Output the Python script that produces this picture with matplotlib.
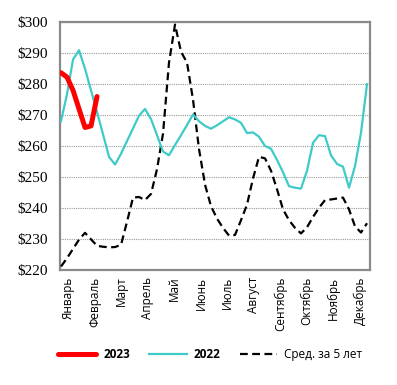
import matplotlib
matplotlib.use("Agg")
import matplotlib.pyplot as plt
import numpy as np

months = ["Январь", "Февраль", "Март", "Апрель", "Май", "Июнь", "Июль",
          "Август", "Сентябрь", "Октябрь", "Ноябрь", "Декабрь"]

y2023 = [283.7, 282.3, 278.0, 272.0, 266.0, 266.5, 276.0]

y2022 = [268.0, 276.8, 288.0, 291.0, 285.0, 278.0, 271.0, 263.8, 256.5, 254.0,
         257.5, 261.6, 265.7, 269.8, 272.0, 268.7, 263.5, 258.2, 257.0, 260.3,
         263.5, 266.8, 270.2, 268.0, 266.5, 265.6, 266.7, 268.0, 269.3, 268.6,
         267.5, 264.2, 264.4, 263.0, 260.0, 259.1, 255.5, 251.5, 247.0, 246.5,
         246.2, 252.0, 261.0, 263.5, 263.2, 257.0, 254.2, 253.3, 246.5, 253.5,
         264.3, 280.0]

avg5 = [221.0, 223.7, 226.7, 229.7, 231.9, 229.8, 227.7, 227.4, 227.2, 227.3,
        228.0, 235.5, 243.3, 243.5, 242.5, 244.5, 252.5, 264.0, 287.0, 299.3,
        290.5, 287.0, 275.0, 259.0, 247.5, 240.5, 236.5, 233.5, 231.0, 231.2,
        236.0, 241.0, 249.5, 256.5, 256.0, 252.0, 246.0, 239.5, 236.0, 233.5,
        231.7, 233.7, 237.0, 240.0, 242.5, 242.7, 243.0, 243.3, 239.5, 234.0,
        232.0, 235.0]

yticks = [220, 230, 240, 250, 260, 270, 280, 290, 300]

fig = plt.figure(figsize=(3.97, 3.85), dpi=100)
ax = fig.add_axes([60/397, 1-269.6/385, 310/397, (269.6-22.4)/385])

ax.plot(np.arange(len(avg5)), avg5, color="black", lw=1.6, ls=(0, (3.5, 2)),
        label="Сред. за 5 лет", zorder=3)
ax.plot(np.arange(len(y2022)), y2022, color="#3ECBC8", lw=1.6, label="2022", zorder=4)
ax.plot(np.arange(len(y2023)), y2023, color="#FF0000", lw=3.6, label="2023",
        solid_capstyle="round", solid_joinstyle="round", zorder=5)

ax.set_xlim(-0.17, 51.5)
ax.set_ylim(220, 300)
ax.set_yticks(yticks)
ax.set_yticklabels([f"${v}" for v in yticks], family="Liberation Serif", fontsize=11)
ax.yaxis.grid(True, color="#9a9a9a", ls=(0, (1, 1)), lw=0.8)
ax.set_axisbelow(True)

tickpos = 1.22 + 4.42 * np.arange(12)
ax.set_xticks(tickpos)
ax.set_xticklabels(months, rotation=90, family="Open Sans", fontsize=8.5)
ax.tick_params(axis="x", length=0, pad=5)
ax.tick_params(axis="y", length=0, pad=9)

for s in ax.spines.values():
    s.set_color("#8a8a8a")
    s.set_linewidth(1.6)

handles, labels = ax.get_legend_handles_labels()
order = [2, 1, 0]
leg = fig.legend([handles[i] for i in order], [labels[i] for i in order],
                 loc="center", bbox_to_anchor=(0.53, 0.078), ncol=3, frameon=False,
                 prop={"family": "Open Sans", "size": 8.5}, handlelength=3.2,
                 columnspacing=1.6, handletextpad=0.6)
for t in leg.get_texts()[:2]:
    t.set_fontweight("bold")

fig.savefig("out.png", dpi=100)
